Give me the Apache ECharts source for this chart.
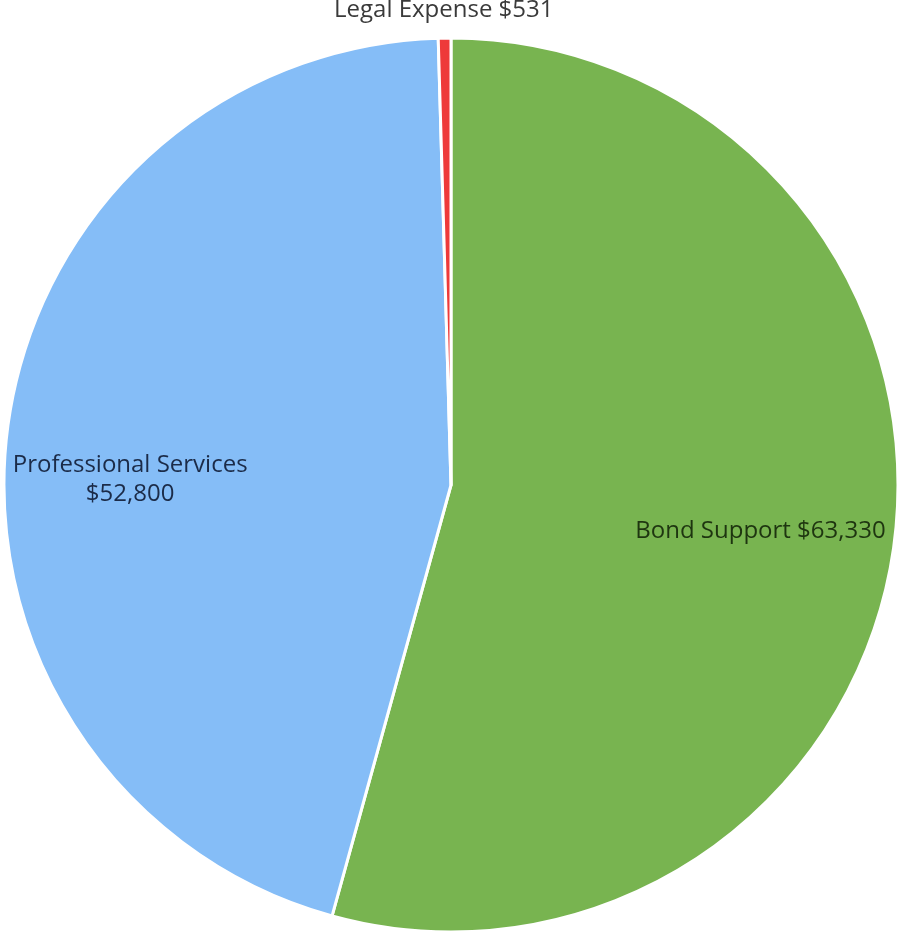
<!DOCTYPE html>
<html>
<head>
<meta charset="utf-8">
<script src="https://cdn.jsdelivr.net/npm/echarts@6/dist/echarts.min.js"></script>
<style>
html,body{margin:0;padding:0;background:#fff;}
#chart{width:902px;height:935px;}
</style>
</head>
<body>
<div id="chart"></div>
<script>
const categories = ['Bond Support', 'Professional Services', 'Legal Expense'];
const values = [63330, 52800, 531];
const labelTexts = ['Bond Support $63,330', 'Professional Services\n$52,800', 'Legal Expense $531'];

const colors = ['#78B450', '#85BDF7', '#EE3A3A'];
const textColors = ['#1E3510', '#1B2B48', '#3A3A3A'];
const labelShift = [[85, 16], [-96, 22], [-4, -248]];

const chart = echarts.init(document.getElementById('chart'));
chart.setOption({
  animation: false,
  series: [{
    type: 'pie',
    center: [451, 485],
    radius: 447,
    startAngle: 90,
    clockwise: true,
    avoidLabelOverlap: false,
    data: categories.map((c, i) => ({
      name: c,
      value: values[i],
      itemStyle: { color: colors[i] },
      label: { color: textColors[i] }
    })),
    itemStyle: { borderColor: '#ffffff', borderWidth: 3 },
    label: {
      show: true,
      position: 'inside',
      fontFamily: 'Open Sans',
      fontSize: 24,
      lineHeight: 29,
      align: 'center',
      formatter: p => labelTexts[p.dataIndex]
    },
    labelLine: { show: false },
    labelLayout: p => ({ dx: labelShift[p.dataIndex][0], dy: labelShift[p.dataIndex][1] })
  }]
});
</script>
</body>
</html>
